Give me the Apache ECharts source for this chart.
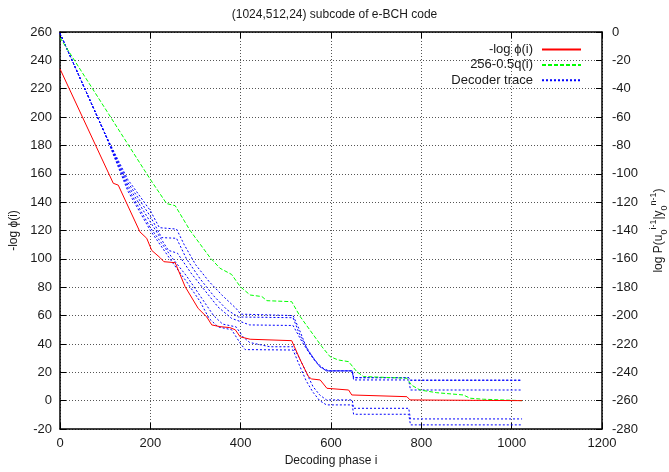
<!DOCTYPE html>
<html>
<head>
<meta charset="utf-8">
<script src="https://cdn.jsdelivr.net/npm/echarts@6/dist/echarts.min.js"></script>
<style>
html, body { margin: 0; padding: 0; background: #fff; }
#chart { width: 669px; height: 472px; }
</style>
</head>
<body>
<div id="chart"></div>
<script>
// [phase i, value]
var logPhi = [[0,234],[118,153.3],[129,152],[177,119],[192,114.5],[203,106],[221,101],[230,98],[255,97.3],[277,80.4],[306,65],[325,59],[336,53.4],[354,52.2],[376,51.5],[388,50],[399,45],[421,43.3],[513,42.3],[532,28.7],[550,17],[557,15.3],[576,14.6],[591,8.7],[639,7.5],[646,4],[768,2.8],[775,0.5],[1023,0]];
var bound = [[0,256],[199,156.5],[236,139],[255,137.5],[288,120],[332,101],[354,93.4],[380,89],[399,80.4],[421,74.5],[447,73.4],[458,70.5],[513,69.8],[532,59.2],[580,38],[598,31],[616,28.7],[639,27.5],[657,20.5],[672,17],[768,15.8],[778,11],[797,7.5],[834,5.6],[893,4],[908,1.7],[937,1],[1023,0]];
var trace1 = [[0,259],[100,188],[150,156],[200,134],[220,122],[258,121],[275,110],[300,96],[330,84],[360,74],[390,65],[400,61],[516,60],[530,50],[545,38],[565,28],[585,22],[590,21],[647,21],[650,16.2],[772,16.2],[776,14.4],[1020,14.4]];
var trace2 = [[0,259],[100,188],[150,154],[200,130],[225,115],[258,114.5],[280,100],[310,86],[340,74],[370,64],[395,59],[516,58.5],[530,47],[550,35],[575,24],[590,21],[647,21],[650,14.6],[772,14.6],[776,7.5],[1023,7.5]];
var trace3 = [[0,259],[100,188],[150,152],[200,126],[240,106],[260,104],[290,90],[320,78],[350,66],[380,58],[420,53.4],[516,53],[535,42],[555,32],[575,24],[595,21],[647,21],[650,16.2],[772,16.2],[776,14.4],[1020,14.4]];
var trace4 = [[0,259],[100,188],[150,150],[200,122],[250,100],[280,88],[310,74],[340,60],[360,54],[390,52],[405,45],[420,41],[465,38],[516,38],[530,30],[545,20],[560,10],[575,4],[590,0.5],[647,0.5],[650,-5.4],[772,-5.4],[776,-12.9],[1023,-12.9]];
var trace5 = [[0,259],[100,188],[150,148],[200,120],[250,97],[280,84],[310,70],[330,58],[350,52],[380,50],[400,40],[410,36],[516,35.7],[530,25],[545,14],[560,6],[575,0],[590,-3],[647,-3],[650,-9.6],[772,-9.6],[776,-17.1],[1023,-17.1]];
var decoderTraces = [trace1, trace2, trace3, trace4, trace5];

var chart = echarts.init(document.getElementById('chart'));
var font = 'Liberation Sans, Arial, Helvetica, sans-serif';
var ink = '#1a1a1a';
var plain = function (v) { return String(v); };

var series = [
    {
        name: '-log ϕ(i)', type: 'line', data: logPhi, symbol: 'none', color: '#ff0000',
        lineStyle: { color: '#ff0000', width: 1 }, z: 4
    },
    {
        name: '256-0.5q(i)', type: 'line', data: bound, symbol: 'none', color: '#00ff00',
        lineStyle: { color: '#00ff00', width: 1, type: [4, 2] }, z: 3
    }
];
decoderTraces.forEach(function (t) {
    series.push({
        name: 'Decoder trace', type: 'line', data: t, symbol: 'none', color: '#0000ff',
        lineStyle: { color: '#0000ff', width: 1, type: [2, 2] }, z: 2
    });
});

option = {
    animation: false,
    backgroundColor: '#fff',
    textStyle: { fontFamily: font },
    title: {
        text: '(1024,512,24) subcode of e-BCH code',
        left: 'center', top: 4,
        textStyle: { fontFamily: font, fontSize: 12, fontWeight: 'normal', color: ink }
    },
    legend: {
        orient: 'vertical', align: 'right', right: 82, top: 38,
        data: ['-log ϕ(i)', '256-0.5q(i)', 'Decoder trace'],
        itemWidth: 39, itemHeight: 11, itemGap: 2.4,
        itemStyle: { opacity: 0 },
        textStyle: { fontFamily: font, fontSize: 13, color: ink, padding: [0, 4, 0, 0] }
    },
    grid: { left: 60, right: 67, top: 32, bottom: 43, containLabel: false, outerBoundsMode: 'none' },
    xAxis: [
        {
            type: 'value', min: 0, max: 1200, interval: 200,
            name: 'Decoding phase i', nameLocation: 'middle', nameGap: 23,
            nameTextStyle: { fontFamily: font, fontSize: 12, color: ink },
            axisLine: { onZero: false, lineStyle: { color: '#000', width: 1.5 } },
            axisTick: { inside: true, length: 6, lineStyle: { color: '#000' } },
            axisLabel: { fontFamily: font, fontSize: 13, color: ink, margin: 8, formatter: plain },
            splitLine: { show: true, lineStyle: { color: '#555', width: 1, type: [1, 2] } }
        },
        {
            type: 'value', position: 'top', min: 0, max: 1200, interval: 200,
            axisLine: { onZero: false, lineStyle: { color: '#000', width: 1.5 } },
            axisTick: { inside: true, length: 6, lineStyle: { color: '#000' } },
            axisLabel: { show: false },
            splitLine: { show: false }
        }
    ],
    yAxis: [
        {
            type: 'value', min: -20, max: 260, interval: 20,
            name: '-log ϕ(i)', nameLocation: 'middle', nameGap: 40, nameRotate: 90,
            nameTextStyle: { fontFamily: font, fontSize: 12, color: ink },
            axisLine: { show: true, onZero: false, lineStyle: { color: '#000', width: 1.5 } },
            axisTick: { show: true, inside: true, length: 6, lineStyle: { color: '#000' } },
            axisLabel: { fontFamily: font, fontSize: 13, color: ink, margin: 8, formatter: plain },
            splitLine: { show: true, lineStyle: { color: '#555', width: 1, type: [1, 2] } }
        },
        {
            type: 'value', position: 'right', min: -280, max: 0, interval: 20,
            name: 'log P(u{sub|0}{sup|i-1}|y{sub|0}{sup|n-1})',
            nameLocation: 'middle', nameGap: 44, nameRotate: 90,
            nameTextStyle: {
                fontFamily: font, fontSize: 12, color: ink, lineHeight: 20,
                rich: {
                    sub: { fontFamily: font, fontSize: 9, color: ink, verticalAlign: 'bottom', lineHeight: 10 },
                    sup: { fontFamily: font, fontSize: 9, color: ink, verticalAlign: 'top', lineHeight: 10 }
                }
            },
            axisLine: { show: true, onZero: false, lineStyle: { color: '#000', width: 1.5 } },
            axisTick: { show: true, inside: true, length: 6, lineStyle: { color: '#000' } },
            axisLabel: { fontFamily: font, fontSize: 13, color: ink, margin: 10, formatter: plain },
            splitLine: { show: false }
        }
    ],
    series: series
};

chart.setOption(option);
</script>
</body>
</html>
